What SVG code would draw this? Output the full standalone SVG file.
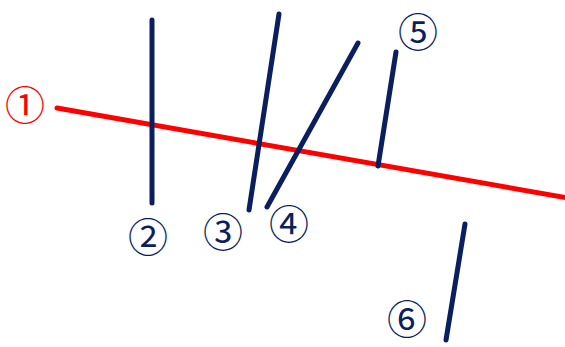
<svg xmlns="http://www.w3.org/2000/svg" width="565" height="347" viewBox="0 0 565 347">
<style>
.n{stroke:#0b1f5e;stroke-width:5;stroke-linecap:round;fill:none}
.r{stroke:#ff0000;stroke-width:5;stroke-linecap:round;fill:none}
.t{font-family:"Noto Sans CJK JP","DejaVu Sans",sans-serif;font-size:40px;text-anchor:middle;dominant-baseline:central;fill:#0b1f5e}
.tr{fill:#ff0000}
</style>
<rect width="565" height="347" fill="#ffffff"/>
<g id="connectors">
<line class="r" x1="57" y1="108" x2="568" y2="198"/>
<line class="n" x1="152" y1="20" x2="152" y2="203"/>
<line class="n" x1="279" y1="14" x2="249" y2="210"/>
<line class="n" x1="358" y1="43" x2="267" y2="207"/>
<line class="n" x1="396" y1="52" x2="378" y2="166"/>
<line class="n" x1="465" y1="224" x2="446" y2="340"/>
</g>
<g id="n1"><text class="t tr" x="25" y="103">①</text></g>
<g id="n2"><text class="t" x="148" y="235">②</text></g>
<g id="n3"><text class="t" x="223" y="230">③</text></g>
<g id="n4"><text class="t" x="289" y="222">④</text></g>
<g id="n5"><text class="t" x="418" y="30">⑤</text></g>
<g id="n6"><text class="t" x="407" y="317">⑥</text></g>
</svg>
